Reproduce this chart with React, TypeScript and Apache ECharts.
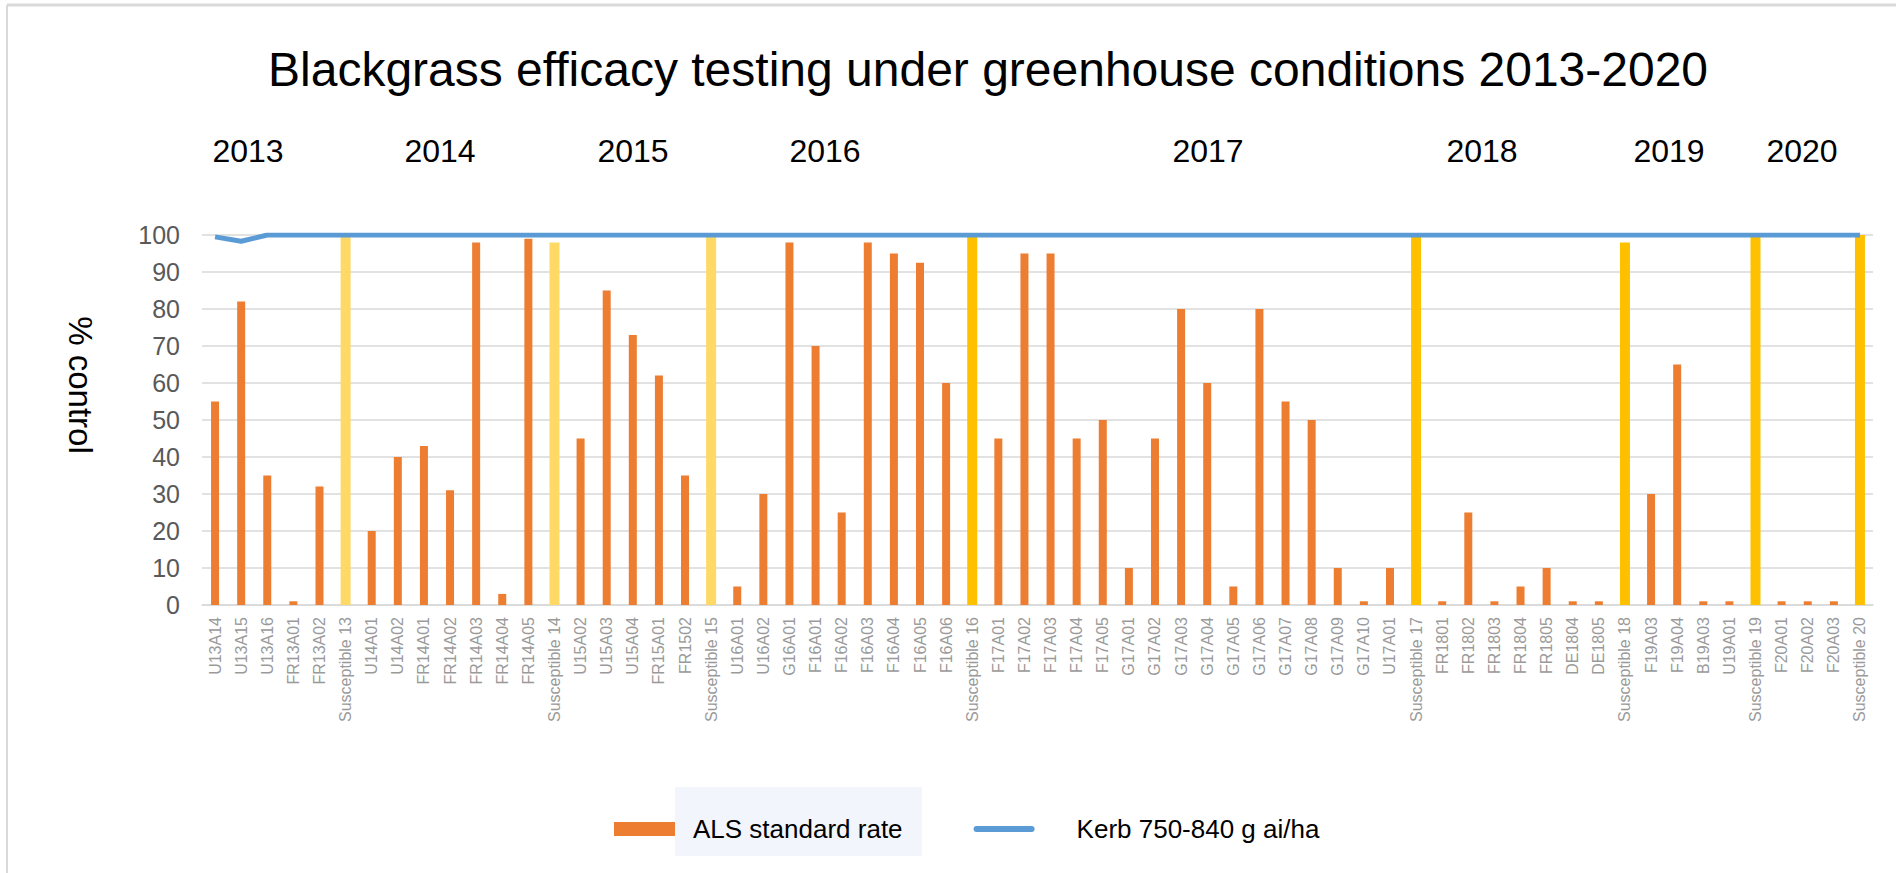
import React, { useEffect, useRef } from 'react';
import * as echarts from 'echarts';

const FONT = '"Liberation Sans", Arial, sans-serif';

const categories = [
  'U13A14', 'U13A15', 'U13A16', 'FR13A01', 'FR13A02', 'Susceptible 13',
  'U14A01', 'U14A02', 'FR14A01', 'FR14A02', 'FR14A03', 'FR14A04', 'FR14A05', 'Susceptible 14',
  'U15A02', 'U15A03', 'U15A04', 'FR15A01', 'FR1502', 'Susceptible 15',
  'U16A01', 'U16A02', 'G16A01', 'F16A01', 'F16A02', 'F16A03', 'F16A04', 'F16A05', 'F16A06', 'Susceptible 16',
  'F17A01', 'F17A02', 'F17A03', 'F17A04', 'F17A05', 'G17A01', 'G17A02', 'G17A03', 'G17A04', 'G17A05',
  'G17A06', 'G17A07', 'G17A08', 'G17A09', 'G17A10', 'U17A01', 'Susceptible 17',
  'FR1801', 'FR1802', 'FR1803', 'FR1804', 'FR1805', 'DE1804', 'DE1805', 'Susceptible 18',
  'F19A03', 'F19A04', 'B19A03', 'U19A01', 'Susceptible 19',
  'F20A01', 'F20A02', 'F20A03', 'Susceptible 20',
];

// % control at the ALS standard rate (susceptible checks included)
const alsValues = [
  55, 82, 35, 1, 32, 100,
  20, 40, 43, 31, 98, 3, 99, 98,
  45, 85, 73, 62, 35, 100,
  5, 30, 98, 70, 25, 98, 95, 92.5, 60, 100,
  45, 95, 95, 45, 50, 10, 45, 80, 60, 5,
  80, 55, 50, 10, 1, 10, 100,
  1, 25, 1, 5, 10, 1, 1, 98,
  30, 65, 1, 1, 100,
  1, 1, 1, 100,
];

// % control with Kerb 750-840 g ai/ha
const kerbValues = [
  99.5, 98.3, 100, 100, 100, 100,
  100, 100, 100, 100, 100, 100, 100, 100,
  100, 100, 100, 100, 100, 100,
  100, 100, 100, 100, 100, 100, 100, 100, 100, 100,
  100, 100, 100, 100, 100, 100, 100, 100, 100, 100,
  100, 100, 100, 100, 100, 100, 100,
  100, 100, 100, 100, 100, 100, 100, 100,
  100, 100, 100, 100, 100,
  100, 100, 100, 100,
];

const yearLabels = ['2013', '2014', '2015', '2016', '2017', '2018', '2019', '2020'];
const yearLabelX = [248, 440, 633, 825, 1208, 1482, 1669, 1802];

export default function App() {
  const ref = useRef<HTMLDivElement>(null);

  useEffect(() => {
    document.body.style.margin = '0';
    document.body.style.overflow = 'hidden';
    const chart = echarts.init(ref.current as HTMLDivElement, null, { renderer: 'svg' });
    const isSus = (c: string) => c.startsWith('Susceptible');
    const alsData = alsValues.map((v, i) => (isSus(categories[i]) ? '-' : v));
    const susData = alsValues.map((v, i) =>
      isSus(categories[i])
        ? {
            value: v,
            itemStyle: { color: parseInt(categories[i].slice(-2), 10) <= 15 ? '#FFD966' : '#FFC000' },
          }
        : '-'
    );

    chart.setOption({
      animation: false,
      backgroundColor: '#ffffff',
      textStyle: { fontFamily: FONT },
      title: {
        text: 'Blackgrass efficacy testing under greenhouse conditions 2013-2020',
        left: 263,
        top: 40,
        textStyle: { fontSize: 48, fontWeight: 'normal', color: '#000000', fontFamily: FONT },
      },
      grid: { left: 202, right: 23, top: 235, bottom: 268, containLabel: false },
      legend: {
        left: 614,
        top: 816,
        padding: 0,
        itemWidth: 61,
        itemHeight: 14,
        itemGap: 71,
        textStyle: { fontSize: 26, color: '#000000', fontFamily: FONT },
        data: [
          { name: 'ALS standard rate', icon: 'rect', textStyle: { padding: [0, 0, 0, 13] } },
          {
            name: 'Kerb 750-840 g ai/ha',
            icon: 'path://M3,0H59A3,3 0 0 1 59,6H3A3,3 0 0 1 3,0Z',
            itemStyle: { color: '#5B9BD5' },
            textStyle: { padding: [0, 0, 0, 37] },
          },
        ],
      },
      xAxis: [
        {
          type: 'category',
          data: categories,
          axisLine: { lineStyle: { color: '#D9D9D9', width: 1.5 } },
          axisTick: { show: false },
          axisLabel: { rotate: 90, interval: 0, fontSize: 16, color: '#9A9A9A', margin: 12, fontFamily: FONT },
        },
        { type: 'category', data: categories, show: false },
      ],
      yAxis: {
        type: 'value',
        min: 0,
        max: 100,
        interval: 10,
        axisLine: { show: false },
        axisTick: { show: false },
        axisLabel: { fontSize: 25, color: '#595959', margin: 22, fontFamily: FONT },
        splitLine: { lineStyle: { color: '#D9D9D9', width: 1.5 } },
      },
      series: [
        {
          name: 'ALS standard rate',
          type: 'bar',
          xAxisIndex: 0,
          barWidth: 8,
          itemStyle: { color: '#ED7D31' },
          data: alsData,
          z: 2,
        },
        {
          name: 'Susceptible',
          type: 'bar',
          xAxisIndex: 1,
          barWidth: 10,
          itemStyle: { color: '#FFC000' },
          data: susData,
          z: 2,
        },
        {
          name: 'Kerb 750-840 g ai/ha',
          type: 'line',
          xAxisIndex: 0,
          data: kerbValues,
          symbol: 'none',
          itemStyle: { color: '#5B9BD5' },
          lineStyle: { width: 5, color: '#5B9BD5' },
          z: 5,
        },
      ],
      graphic: [
        { type: 'line', z: 0, shape: { x1: 7, y1: 5, x2: 1896, y2: 5 }, style: { stroke: '#D9D9D9', lineWidth: 3 } },
        { type: 'line', z: 0, shape: { x1: 7, y1: 5, x2: 7, y2: 873 }, style: { stroke: '#D9D9D9', lineWidth: 2 } },
        { type: 'rect', z: 0, shape: { x: 675, y: 787, width: 247, height: 69 }, style: { fill: '#F2F5FC' } },
        {
          type: 'text',
          x: 80,
          y: 385,
          rotation: -Math.PI / 2,
          style: {
            text: '% control',
            fontSize: 33,
            fill: '#000000',
            align: 'center',
            verticalAlign: 'middle',
            fontFamily: FONT,
          },
        },
        ...yearLabels.map((t, i) => ({
          type: 'text',
          x: yearLabelX[i],
          y: 151,
          style: {
            text: t,
            fontSize: 32,
            fill: '#000000',
            align: 'center',
            verticalAlign: 'middle',
            fontFamily: FONT,
          },
        })),
      ],
    });

    return () => chart.dispose();
  }, []);

  return <div ref={ref} style={{ width: 1896, height: 873 }} />;
}
